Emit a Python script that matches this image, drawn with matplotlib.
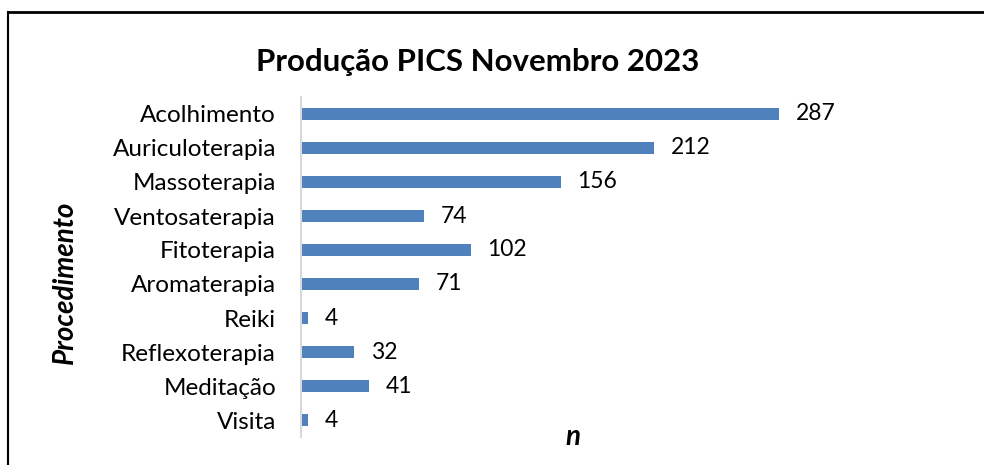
import matplotlib
matplotlib.use("Agg")
import matplotlib.pyplot as plt
from matplotlib.lines import Line2D

categories = ["Acolhimento", "Auriculoterapia", "Massoterapia", "Ventosaterapia",
              "Fitoterapia", "Aromaterapia", "Reiki", "Reflexoterapia",
              "Meditação", "Visita"]
values = [287, 212, 156, 74, 102, 71, 4, 32, 41, 4]
title = "Produção PICS Novembro 2023"

plt.rcParams['font.family'] = ['Lato', 'DejaVu Sans']

W, H = 984, 465
fig = plt.figure(figsize=(W/100, H/100), dpi=100)
fig.patch.set_facecolor("white")

ax_left, ax_right = 301, 966
ax_top, ax_bot = 97, 437
ax = fig.add_axes([ax_left/W, 1 - ax_bot/H, (ax_right-ax_left)/W, (ax_bot-ax_top)/H])

ypos = list(range(len(categories)))
ax.barh(ypos, values, height=0.36, color="#4F81BD")
ax.set_ylim(len(categories)-0.5, -0.5)
ax.set_xlim(0, (ax_right-ax_left)/(779-301)*287)
ax.set_yticks(ypos)
ax.set_yticklabels(categories, fontsize=17.5)
ax.tick_params(axis='y', length=0, pad=18)
ax.set_xticks([])
for s in ["top", "right", "bottom"]:
    ax.spines[s].set_visible(False)
ax.spines["left"].set_color("#D9D9D9")
ax.spines["left"].set_linewidth(1.5)

for y, v in zip(ypos, values):
    ax.annotate(str(v), (v, y), xytext=(12, 0), textcoords="offset points",
                va="center", ha="left", fontsize=16.5)

fig.text(478/W, 1 - 62/H, title, ha="center", va="center", fontsize=22.5, fontweight="bold")
fig.text(65/W, 1 - 282/H, "Procedimento", rotation=90, ha="center", va="center",
         fontsize=20, fontweight="bold", fontstyle="italic")
fig.text(573/W, 1 - 437/H, "n", ha="center", va="center",
         fontsize=20, fontweight="bold", fontstyle="italic")

fig.add_artist(Line2D([8/W, 1], [1 - 12/H, 1 - 12/H], color="black", lw=2, transform=fig.transFigure))
fig.add_artist(Line2D([8/W, 8/W], [1 - 12/H, 0], color="black", lw=1.5, transform=fig.transFigure))

fig.savefig("out.png", dpi=100)
